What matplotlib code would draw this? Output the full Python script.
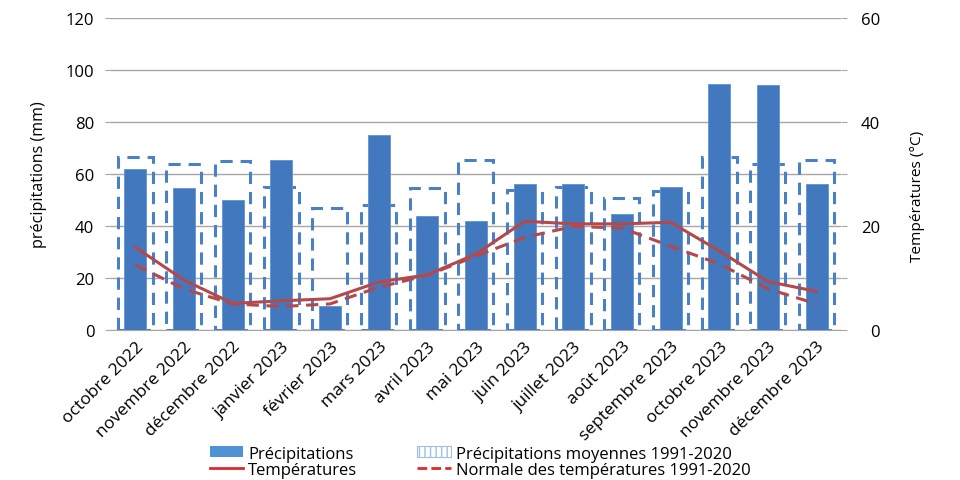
import matplotlib.pyplot as plt
import matplotlib.patches as mpatches
import matplotlib.lines as mlines
import numpy as np

plt.rcParams['font.family'] = ['Open Sans', 'DejaVu Sans']

mois = ['octobre 2022', 'novembre 2022', 'décembre 2022', 'janvier 2023', 'février 2023',
        'mars 2023', 'avril 2023', 'mai 2023', 'juin 2023', 'juillet 2023', 'août 2023',
        'septembre 2023', 'octobre 2023', 'novembre 2023', 'décembre 2023']
precip = [62, 54.5, 50, 65.5, 9.2, 75, 44, 42, 56.3, 56.3, 44.5, 55, 94.6, 94.3, 56.3]
precip_moy = [66.4, 64, 65, 55, 47, 48, 54.6, 65.4, 54, 55, 50.8, 53.3, 66.4, 63.8, 65.5]
temp = [15.9, 9.6, 5.1, 5.6, 6.0, 9.2, 10.6, 14.6, 20.9, 20.4, 20.4, 20.7, 15.2, 9.3, 7.4]
temp_normale = [12.5, 7.9, 5.0, 4.5, 5.0, 8.2, 10.5, 14.2, 17.8, 19.9, 19.6, 16.1, 12.7, 7.9, 5.0]

bleu = '#4279be'
bleu_tirets = '#4a80c6'
rouge = '#b4484a'
gris = '#a6a6a6'

fig = plt.figure(figsize=(9.6, 4.81), dpi=100)
ax = fig.add_axes([0.1156, 0.312, 0.7604, 0.6485])
ax2 = ax.twinx()

x = np.arange(len(mois))

# moyennes 1991-2020 : rectangles en tirets derrière les barres
ax.bar(x, precip_moy, width=0.72, fill=False, edgecolor=bleu_tirets,
       linestyle=(0, (4, 2.6)), linewidth=2.2, zorder=2)
ax.bar(x, precip, width=0.45, color=bleu, edgecolor='#5f93d3', linewidth=0.6, zorder=3)

ax.set_xlim(-0.5, len(mois) - 0.5)
ax.set_ylim(0, 120)
ax.set_yticks(np.arange(0, 121, 20))
ax.yaxis.grid(True, color=gris, linewidth=1)
ax.set_axisbelow(True)
ax.set_xticks(x)
ax.set_xticklabels(mois, rotation=45, ha='right', rotation_mode='anchor', fontsize=12.5)
ax.tick_params(axis='x', length=0, pad=6)
ax.tick_params(axis='y', length=4, color=gris, labelsize=12, pad=8)
for s in ['left', 'right', 'top']:
    ax.spines[s].set_visible(False)
ax.spines['bottom'].set_color(gris)
ax.set_ylabel('précipitations (mm)', fontsize=11.6)
ax.yaxis.set_label_coords(-0.088, 0.5)

ax2.plot(x, temp, color=rouge, linewidth=2.2, zorder=4)
ax2.plot(x, temp_normale, color=rouge, linewidth=2.2, linestyle=(0, (4, 2.5)), zorder=4)
ax2.set_ylim(0, 60)
ax2.set_yticks(np.arange(0, 61, 10))
ax2.set_yticklabels(['0', '', '20', '', '40', '', '60'])
ax2.tick_params(axis='y', length=4, color=gris, labelsize=12, pad=24)
for lab in ax2.get_yticklabels():
    lab.set_horizontalalignment('right')
for s in ['left', 'right', 'top', 'bottom']:
    ax2.spines[s].set_visible(False)
ax2.set_ylabel('Températures (°C)', fontsize=11.1)
ax2.yaxis.set_label_coords(1.094, 0.43)

handles = [
    mpatches.Patch(facecolor='#4f92d6', edgecolor='none', label='Précipitations'),
    mlines.Line2D([], [], color='#e0282c', linewidth=2, label='Températures'),
    mpatches.Patch(facecolor='white', edgecolor='#9cc0e8', hatch='|||', linewidth=0.8,
                   label='Précipitations moyennes 1991-2020'),
    mlines.Line2D([], [], color='#e0282c', linewidth=2, linestyle=(0, (3.5, 1.5)),
                  label='Normale des températures 1991-2020'),
]
plt.rcParams['hatch.color'] = '#9cc0e8'
fig.legend(handles=handles, ncol=2, loc='center', bbox_to_anchor=(0.5, 0.038),
           frameon=False, fontsize=12, handlelength=2.0, handleheight=0.65,
           handletextpad=0.3, columnspacing=3.6, labelspacing=0.0)

fig.savefig('out.png', dpi=100)
